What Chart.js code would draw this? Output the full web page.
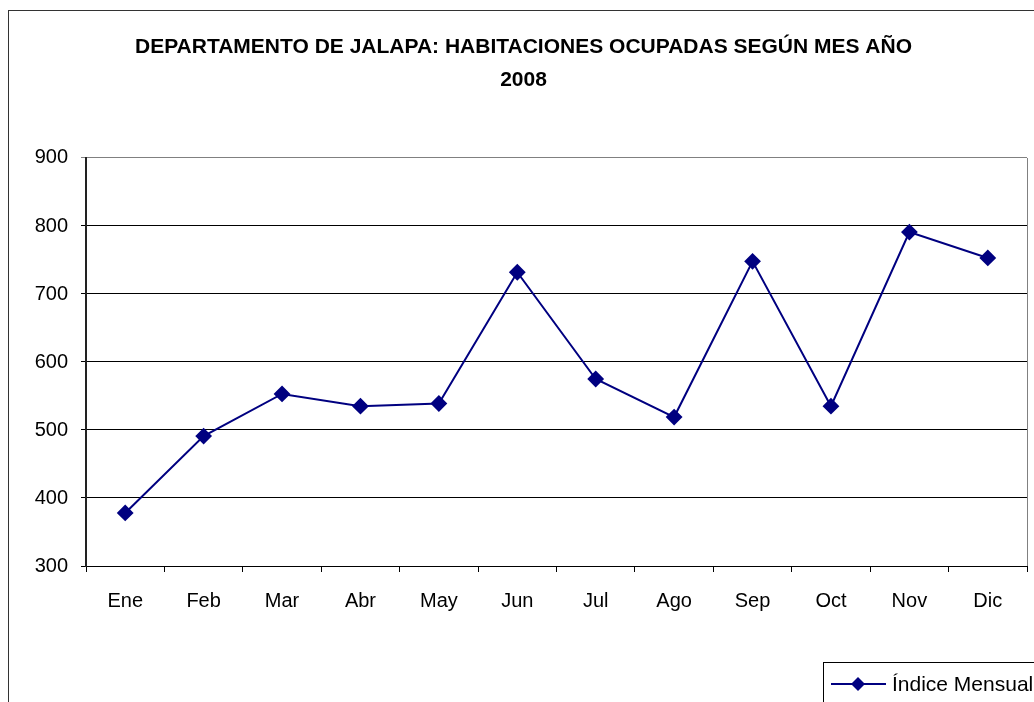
<!DOCTYPE html>
<html>
<head>
<meta charset="utf-8">
<title>Habitaciones ocupadas 2008</title>
<script src="https://cdn.jsdelivr.net/npm/chart.js@4.4.1/dist/chart.umd.min.js"></script>
<style>
    html, body { margin: 0; padding: 0; overflow: hidden; background: #fff; }
    #wrap { position: absolute; left: 0; top: 0; }
</style>
</head>
<body>
<div id="wrap"><canvas id="myChart" width="1080" height="740"></canvas></div>
<script>
const months = ['Ene', 'Feb', 'Mar', 'Abr', 'May', 'Jun', 'Jul', 'Ago', 'Sep', 'Oct', 'Nov', 'Dic'];
const habitaciones = [378, 491, 553, 535, 539, 732, 575, 519, 748, 535, 791, 753];
const yTicks = [300, 400, 500, 600, 700, 800, 900];
const seriesName = 'Índice Mensual';
const titleLines = ['DEPARTAMENTO DE JALAPA: HABITACIONES OCUPADAS SEGÚN MES AÑO', '2008'];

const navy = '#000080';
const fontFamily = '"Liberation Sans", Arial, sans-serif';

// outer frame, plot right border and the boxed legend
const extras = {
    id: 'extras',
    beforeDraw(chart) {
        const ctx = chart.ctx;
        ctx.save();
        ctx.fillStyle = '#fff';
        ctx.fillRect(0, 0, chart.width, chart.height);
        ctx.strokeStyle = '#333';
        ctx.lineWidth = 1;
        ctx.strokeRect(8.5, 10.5, 1060, 720);
        ctx.restore();
    },
    afterDraw(chart) {
        const ctx = chart.ctx;
        const area = chart.chartArea;
        ctx.save();
        ctx.strokeStyle = '#808080';
        ctx.lineWidth = 1;
        ctx.beginPath();
        ctx.moveTo(area.right + 0.5, area.top);
        ctx.lineTo(area.right + 0.5, area.bottom);
        ctx.stroke();

        // legend
        const lx = 823.5, ly = 662.5;
        ctx.strokeStyle = '#000';
        ctx.strokeRect(lx, ly, 260, 60);
        ctx.strokeStyle = navy;
        ctx.lineWidth = 2;
        ctx.beginPath();
        ctx.moveTo(831, 684);
        ctx.lineTo(886, 684);
        ctx.stroke();
        ctx.fillStyle = navy;
        ctx.beginPath();
        ctx.moveTo(858, 677);
        ctx.lineTo(865, 684);
        ctx.lineTo(858, 691);
        ctx.lineTo(851, 684);
        ctx.closePath();
        ctx.fill();
        ctx.fillStyle = '#000';
        ctx.font = '21px ' + fontFamily;
        ctx.textBaseline = 'middle';
        ctx.fillText(seriesName, 892, 685);
        ctx.restore();
    }
};

const data = {
    labels: months,
    datasets: [{
        label: seriesName,
        data: habitaciones,
        borderColor: navy,
        backgroundColor: navy,
        borderWidth: 2,
        pointStyle: 'rectRot',
        pointRadius: 7,
        pointHoverRadius: 7,
        tension: 0
    }]
};

const config = {
    type: 'line',
    data: data,
    plugins: [extras],
    options: {
        responsive: false,
        animation: false,
        layout: {
            padding: { left: 20, right: 53, top: 10, bottom: 124 }
        },
        plugins: {
            legend: { display: false },
            tooltip: { enabled: false },
            title: {
                display: true,
                text: titleLines,
                color: '#000',
                font: { family: fontFamily, size: 21, weight: 'bold', lineHeight: 1.571 },
                padding: { top: 21, bottom: 61 }
            }
        },
        scales: {
            x: {
                offset: true,
                grid: {
                    display: true,
                    drawOnChartArea: false,
                    drawTicks: true,
                    tickLength: 6,
                    color: '#000',
                    offset: true
                },
                border: { color: '#000', width: 1 },
                ticks: {
                    color: '#000',
                    padding: 17,
                    font: { family: fontFamily, size: 20 }
                },
                afterFit(scale) { scale.height = 50; }
            },
            y: {
                min: 300,
                max: 900,
                afterBuildTicks(scale) {
                    scale.ticks = yTicks.map(v => ({ value: v }));
                },
                grid: {
                    color: ctx => (ctx.tick && ctx.tick.value === 900 ? '#808080' : '#000'),
                    lineWidth: 1,
                    drawTicks: true,
                    tickLength: 5
                },
                border: { color: '#222', width: 2 },
                ticks: {
                    color: '#000',
                    padding: 13,
                    font: { family: fontFamily, size: 20 }
                },
                afterFit(scale) { scale.width = 66; }
            }
        }
    }
};

const myChart = new Chart(document.getElementById('myChart'), config);
</script>
</body>
</html>
